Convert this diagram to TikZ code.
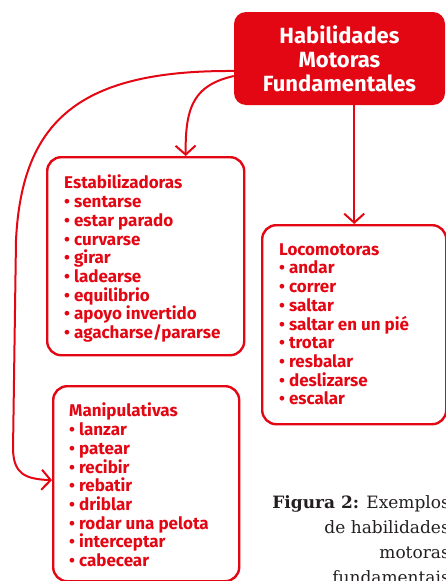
\documentclass[tikz,border=0pt]{standalone}
\usepackage{fontspec}
\setmainfont{Fira Sans}
\newfontfamily\capfont{DejaVu Serif}
\usetikzlibrary{arrows.meta}
\definecolor{hred}{HTML}{E30613}
\definecolor{captxt}{HTML}{231F20}
\begin{document}
\begin{tikzpicture}[x=1pt,y=-1pt,
  frame/.style={draw=hred, line width=2.4pt, rounded corners=14pt, inner sep=0pt, anchor=north west},
  listtext/.style={anchor=north west, inner sep=0pt, text=hred, font=\bfseries\fontsize{17}{18.7}\selectfont, align=left},
  conn/.style={draw=hred, line width=2pt, -{Straight Barb[length=9pt,width=20pt]}}]
\useasboundingbox (0,0) rectangle (446,581);
% top box
\node[fill=hred, rounded corners=12pt, minimum width=211pt, minimum height=93pt, inner sep=0pt,
      text=white, font=\bfseries\fontsize{22}{24}\selectfont, align=center] (top) at (339.5,58.5)
      {Habilidades\\Motoras\\Fundamentales};
% frames
\node[frame, minimum width=197pt, minimum height=198pt] (stab) at (46,156) {};
\node[frame, minimum width=184pt, minimum height=199pt] (loco) at (261,224) {};
\node[frame, minimum width=186pt, minimum height=195pt] (manip) at (52,385) {};
% texts
\node[listtext] (stabt) at ([xshift=18pt,yshift=-19pt]stab.north west)
  {\rule{0pt}{12pt}Estabilizadoras\\• sentarse\\• estar parado\\• curvarse\\• girar\\• ladearse\\• equilibrio\\• apoyo invertido\\• agacharse/pararse};
\node[listtext] (locot) at ([xshift=18pt,yshift=-19pt]loco.north west)
  {\rule{0pt}{12pt}Locomotoras\\• andar\\• correr\\• saltar\\• saltar en un pié\\• trotar\\• resbalar\\• deslizarse\\• escalar};
\node[listtext] (manipt) at ([xshift=17pt,yshift=-18pt]manip.north west)
  {\rule{0pt}{12pt}Manipulativas\\• lanzar\\• patear\\• recibir\\• rebatir\\• driblar\\• rodar una pelota\\• interceptar\\• cabecear};
% caption
\node[anchor=north east, inner sep=0pt, align=right, text=captxt,
      font=\capfont\fontsize{17}{25}\selectfont] (cap) at (450,494)
  {\rule{0pt}{14pt}\textbf{Figura 2:} Exemplos\\de habilidades\\motoras\\fundamentais};
% connectors
\draw[conn] (top.south -| loco.north) -- (loco.north);
\draw[conn] ([yshift=-17.5pt]top.west) .. controls (195,85) and (185,105) .. ([xshift=40pt]stab.north);
\draw[conn] ([yshift=-12.5pt]top.west) .. controls (80,70) and (22,120) .. (16,240)
   -- (13,450) .. controls (14,474) and (25,479) .. ([yshift=3.5pt]manip.west);
\end{tikzpicture}
\end{document}
